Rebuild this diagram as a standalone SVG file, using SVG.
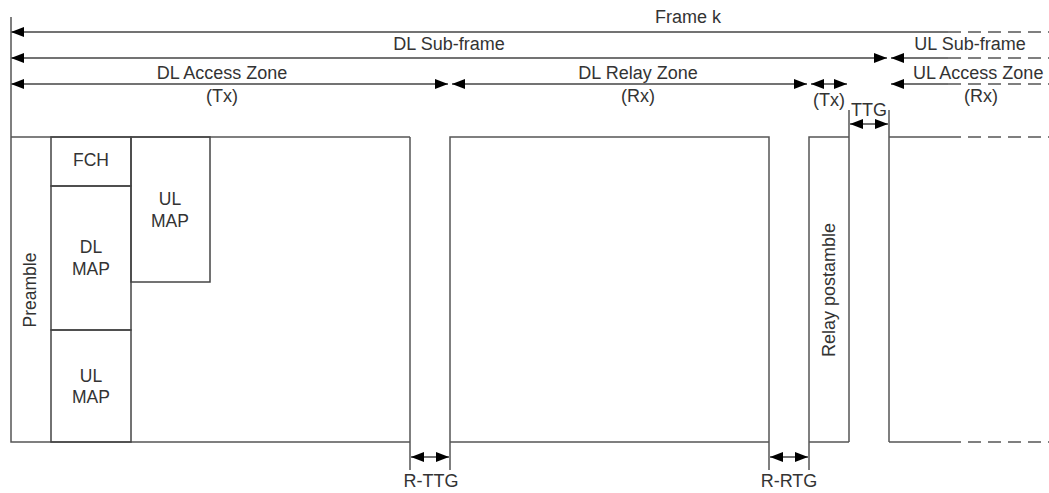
<svg xmlns="http://www.w3.org/2000/svg" width="1049" height="493" viewBox="0 0 1049 493">
<style>
.ln{stroke:#555;stroke-width:1.5;fill:none}
.box{stroke:#444;stroke-width:1.5;fill:none}
.dash{stroke:#555;stroke-width:1.5;fill:none;stroke-dasharray:13 7}
.arr{stroke:#444;stroke-width:1.5;fill:none}
.t{font-family:"Liberation Sans",Arial,sans-serif;font-size:18px;fill:#333;text-anchor:middle}
.s{font-size:17.5px}
</style>
<defs>
<marker id="ah" markerUnits="userSpaceOnUse" markerWidth="14" markerHeight="11" refX="13" refY="5" orient="auto-start-reverse">
<path d="M0,0 L13,5 L0,10 z" fill="#000"/>
</marker>
</defs>
<rect width="1049" height="493" fill="#fff"/>

<g id="connectors">
<!-- Frame k -->
<line class="arr" x1="11" y1="32" x2="948" y2="32" marker-start="url(#ah)"/>
<line class="dash" x1="948" y1="32" x2="1049" y2="32"/>
<!-- DL/UL Sub-frame -->
<line class="arr" x1="11" y1="58" x2="887" y2="58" marker-start="url(#ah)" marker-end="url(#ah)"/>
<line class="arr" x1="891" y1="58" x2="948" y2="58" marker-start="url(#ah)"/>
<line class="dash" x1="948" y1="58" x2="1049" y2="58"/>
<!-- Zones -->
<line class="arr" x1="11" y1="84" x2="448" y2="84" marker-start="url(#ah)" marker-end="url(#ah)"/>
<line class="arr" x1="452" y1="84" x2="807" y2="84" marker-start="url(#ah)" marker-end="url(#ah)"/>
<line class="arr" x1="811" y1="84" x2="847" y2="84" marker-start="url(#ah)" marker-end="url(#ah)"/>
<line class="arr" x1="891" y1="84" x2="948" y2="84" marker-start="url(#ah)"/>
<line class="dash" x1="948" y1="84" x2="1049" y2="84"/>
<!-- TTG -->
<line class="arr" x1="850" y1="124" x2="888" y2="124" marker-start="url(#ah)" marker-end="url(#ah)"/>
<!-- R-TTG, R-RTG -->
<line class="arr" x1="411" y1="457" x2="449" y2="457" marker-start="url(#ah)" marker-end="url(#ah)"/>
<line class="arr" x1="770" y1="457" x2="808" y2="457" marker-start="url(#ah)" marker-end="url(#ah)"/>
</g>

<g id="labels-top">
<text class="t" x="688" y="23">Frame k</text>
<text class="t" x="449" y="50">DL Sub-frame</text>
<text class="t" x="970" y="50">UL Sub-frame</text>
<text class="t" x="222" y="79">DL Access Zone</text>
<text class="t" x="222" y="102">(Tx)</text>
<text class="t" x="638" y="79">DL Relay Zone</text>
<text class="t" x="638" y="102">(Rx)</text>
<text class="t" x="829" y="106">(Tx)</text>
<text class="t" x="913" y="79" style="text-anchor:start">UL Access Zone</text>
<text class="t" x="981" y="102">(Rx)</text>
<text class="t" x="869" y="116">TTG</text>
<text class="t" x="431" y="487">R-TTG</text>
<text class="t" x="789" y="487">R-RTG</text>
</g>

<g id="dl-access-zone">
<path class="ln" d="M11,17 V442 H410 M11,137 H410 M410,137 V470"/>
</g>

<g id="preamble">
<text class="t s" transform="translate(36,290) rotate(-90)">Preamble</text>
</g>

<g id="fch">
<rect class="box" x="51" y="137" width="80" height="49"/>
<text class="t s" x="91" y="166">FCH</text>
</g>

<g id="dl-map">
<rect class="box" x="51" y="186" width="80" height="144"/>
<text class="t s" x="91" y="253">DL</text>
<text class="t s" x="91" y="275">MAP</text>
</g>

<g id="ul-map-bottom">
<rect class="box" x="51" y="330" width="80" height="112"/>
<text class="t s" x="91" y="382">UL</text>
<text class="t s" x="91" y="403">MAP</text>
</g>

<g id="ul-map-top">
<rect class="box" x="131" y="137" width="79" height="145"/>
<text class="t s" x="170" y="205">UL</text>
<text class="t s" x="170" y="227">MAP</text>
</g>

<g id="dl-relay-zone">
<path class="ln" d="M450,470 V137 H769 V470 M450,442 H769"/>
</g>

<g id="relay-postamble">
<path class="ln" d="M809,470 V137 H849 M809,442 H849 M849,110 V442"/>
<text class="t" transform="translate(835,290) rotate(-90)">Relay postamble</text>
</g>

<g id="ul-access-zone">
<path class="ln" d="M889,110 V442 M889,137 H948 M889,442 H948"/>
<line class="dash" x1="948" y1="137" x2="1049" y2="137"/>
<line class="dash" x1="948" y1="442" x2="1049" y2="442"/>
</g>
</svg>
